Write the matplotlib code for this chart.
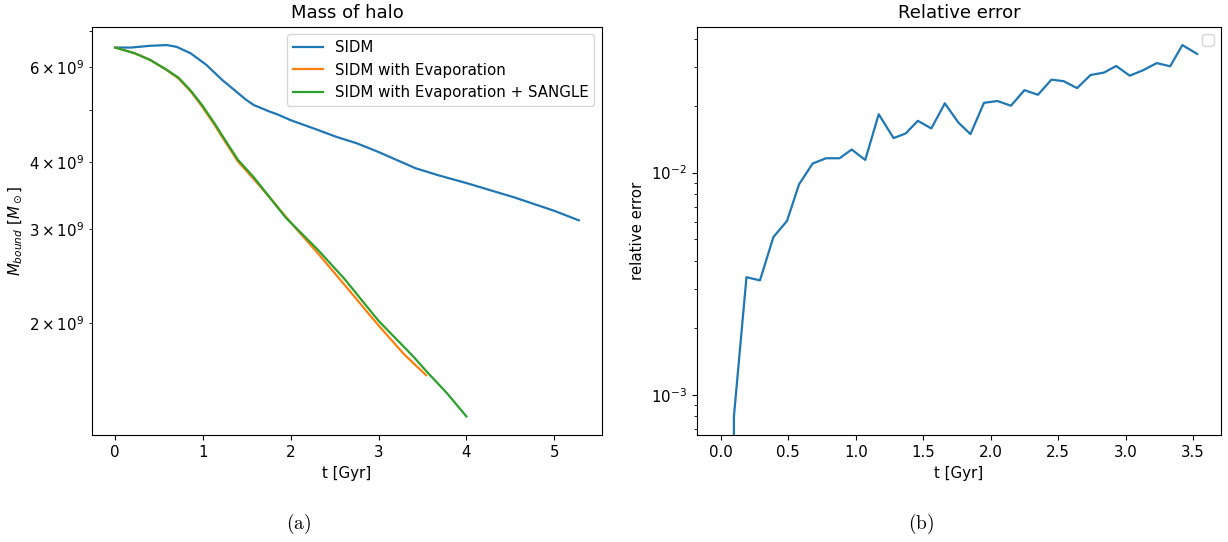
import numpy as np
import matplotlib
matplotlib.use("Agg")
import matplotlib.pyplot as plt

# bound mass of the halo [1e9 M_sun] vs time [Gyr]
t_sidm = [0, 0.18, 0.4, 0.59, 0.7, 0.86, 1.04, 1.22, 1.4, 1.49, 1.58, 1.67, 1.76,
          1.85, 2.0, 2.3, 2.52, 2.75, 3.0, 3.42, 3.69, 4.0, 4.55, 5.0, 5.28]
m_sidm = [6.53, 6.53, 6.58, 6.6, 6.55, 6.37, 6.06, 5.68, 5.37, 5.22, 5.1, 5.03, 4.96,
          4.9, 4.78, 4.59, 4.45, 4.33, 4.17, 3.89, 3.77, 3.65, 3.43, 3.24, 3.11]

t_evap = [0, 0.225, 0.4, 0.585, 0.72, 0.86, 0.99, 1.13, 1.26, 1.4, 1.58, 1.76,
          2.0, 2.3, 2.61, 3.0, 3.29, 3.54]
m_evap = [6.53, 6.37, 6.19, 5.93, 5.72, 5.41, 5.07, 4.69, 4.34, 4.0, 3.71, 3.43,
          3.08, 2.71, 2.36, 1.98, 1.75, 1.6]

t_sangle = [0, 0.225, 0.4, 0.585, 0.72, 0.86, 0.99, 1.13, 1.26, 1.4, 1.58, 1.94,
            2.3, 2.61, 3.0, 3.4, 3.54, 3.78, 4.0]
m_sangle = [6.53, 6.37, 6.19, 5.94, 5.74, 5.43, 5.1, 4.72, 4.37, 4.03, 3.74, 3.15,
            2.75, 2.42, 2.02, 1.73, 1.63, 1.48, 1.34]

# relative error between evaporation runs
t_err = [0.0, 0.097, 0.19, 0.29, 0.39, 0.49, 0.58, 0.68, 0.78, 0.88, 0.97, 1.07,
         1.17, 1.28, 1.37, 1.46, 1.56, 1.66, 1.76, 1.85, 1.95, 2.05, 2.15, 2.25,
         2.35, 2.45, 2.54, 2.64, 2.74, 2.84, 2.93, 3.03, 3.13, 3.23, 3.33, 3.42, 3.53]
rel_err = [0.0, 7.98e-4, 3.38e-3, 3.27e-3, 5.13e-3, 6.05e-3, 8.86e-3, 1.098e-2,
           1.16e-2, 1.16e-2, 1.27e-2, 1.14e-2, 1.83e-2, 1.43e-2, 1.50e-2, 1.71e-2,
           1.58e-2, 2.05e-2, 1.68e-2, 1.49e-2, 2.06e-2, 2.10e-2, 2.0e-2, 2.35e-2,
           2.24e-2, 2.62e-2, 2.58e-2, 2.40e-2, 2.75e-2, 2.82e-2, 3.02e-2, 2.73e-2,
           2.89e-2, 3.11e-2, 3.01e-2, 3.75e-2, 3.42e-2]

fs = 10.8
plt.rcParams.update({
    "font.size": fs,
    "axes.titlesize": fs * 1.2,
    "axes.labelsize": fs,
    "xtick.labelsize": fs,
    "ytick.labelsize": fs,
    "legend.fontsize": fs,
    "lines.linewidth": 1.6,
    "xtick.major.size": 3.8,
    "ytick.major.size": 3.8,
    "ytick.minor.size": 2.2,
})

fig = plt.figure(figsize=(12.28, 5.42), dpi=100)
ax1 = fig.add_axes([0.0749, 0.1974, 0.4153, 0.7537])
ax2 = fig.add_axes([0.5676, 0.1974, 0.4267, 0.7537])

ax1.plot(t_sidm, np.array(m_sidm) * 1e9, label="SIDM")
ax1.plot(t_evap, np.array(m_evap) * 1e9, label="SIDM with Evaporation")
ax1.plot(t_sangle, np.array(m_sangle) * 1e9, label="SIDM with Evaporation + SANGLE")
ax1.set_yscale("log")
ax1.set_title("Mass of halo")
ax1.set_xlabel("t [Gyr]")
ax1.set_ylabel(r"$M_{bound}$ [$M_\odot$]")
ax1.legend(loc="upper right")

ax2.plot(t_err, rel_err)
ax2.set_yscale("log")
ax2.set_title("Relative error")
ax2.set_xlabel("t [Gyr]")
ax2.set_ylabel("relative error")
ax2.legend()

fig.text(299 / 1228, 1 - 524 / 542, r"$\mathrm{(a)}$", ha="center", va="center",
         fontsize=14, math_fontfamily="cm")
fig.text(921 / 1228, 1 - 524 / 542, r"$\mathrm{(b)}$", ha="center", va="center",
         fontsize=14, math_fontfamily="cm")

fig.savefig("out.png", dpi=100)
